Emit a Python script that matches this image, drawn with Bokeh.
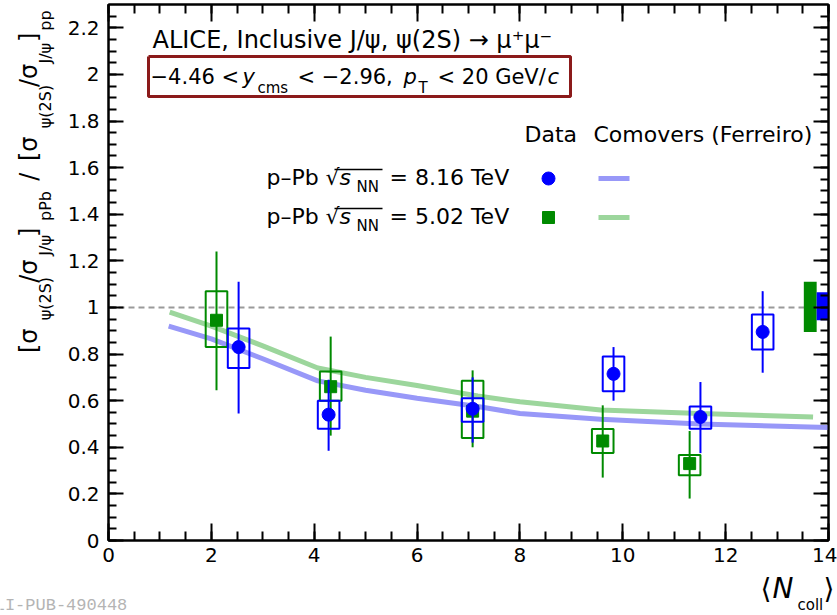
import numpy as np
from bokeh.plotting import figure
from bokeh.layouts import row, column
from bokeh.models import Range1d, LinearAxis, Label, FixedTicker, PrintfTickFormatter
from bokeh.embed import file_html
from bokeh.resources import INLINE

# ---------------- data ----------------
ncoll_816 = [2.53, 4.28, 7.08, 9.82, 11.51, 12.72]
ratio_816 = [0.83, 0.54, 0.565, 0.715, 0.53, 0.895]
stat_lo_816 = [0.545, 0.385, 0.42, 0.60, 0.375, 0.72]
stat_hi_816 = [1.11, 0.69, 0.70, 0.83, 0.68, 1.07]
syst_lo_816 = [0.74, 0.48, 0.51, 0.64, 0.48, 0.82]
syst_hi_816 = [0.91, 0.60, 0.61, 0.79, 0.575, 0.97]

ncoll_502 = [2.10, 4.32, 7.08, 9.61, 11.30]
ratio_502 = [0.945, 0.66, 0.555, 0.427, 0.33]
stat_lo_502 = [0.645, 0.45, 0.40, 0.27, 0.18]
stat_hi_502 = [1.24, 0.875, 0.73, 0.58, 0.47]
syst_lo_502 = [0.83, 0.60, 0.44, 0.375, 0.28]
syst_hi_502 = [1.07, 0.725, 0.685, 0.478, 0.367]

comov_x_816 = [1.17, 2.0, 3.0, 4.07, 5.0, 6.0, 7.18, 8.0, 9.57, 11.5, 14.0]
comov_y_816 = [0.92, 0.865, 0.78, 0.685, 0.645, 0.61, 0.575, 0.545, 0.52, 0.50, 0.485]
comov_x_502 = [1.19, 2.0, 3.0, 4.07, 5.0, 6.0, 7.18, 8.0, 9.57, 11.5, 13.7]
comov_y_502 = [0.98, 0.92, 0.835, 0.74, 0.70, 0.665, 0.62, 0.595, 0.56, 0.545, 0.53]

glob_lo_816, glob_hi_816 = 0.945, 1.065
glob_lo_502, glob_hi_502 = 0.895, 1.11

x_ticks = [0, 2, 4, 6, 8, 10, 12, 14]
y_ticks = [0, 0.2, 0.4, 0.6, 0.8, 1.0, 1.2, 1.4, 1.6, 1.8, 2.0, 2.2]

# ---------------- style / layout ----------------
W, H = 837, 615
LW = 60            # left strip (y-axis title)
MH = 572           # height of main figure
BH = H - MH        # bottom strip (x-axis title)
FL, FR, FT, FB = 108, 828, 4, 540          # frame edges in page pixels
XMAX, YMAX = 14.0, 2.3
FONT = "DejaVu Sans"
BLUE = "#0000ff"
GREEN = "#008a00"
BLUE_L = "#9898f8"
GREEN_L = "#9cd69c"
HALF_W = 0.21
SHIFT = 0.4        # baseline correction, fraction of font size

def X(px):
    return (px - FL) * XMAX / (FR - FL)

def Y(py):
    return (FB - py) * YMAX / (FB - FT)

p = figure(width=W - LW, height=MH, x_range=Range1d(0, XMAX), y_range=Range1d(0, YMAX),
           output_backend="svg", toolbar_location=None,
           min_border_left=FL - LW, min_border_right=W - FR, min_border_top=FT,
           min_border_bottom=MH - FB)
p.grid.visible = False
p.outline_line_color = "black"
p.outline_line_width = 2
p.background_fill_color = "white"
p.border_fill_color = "white"

x_minor = list(np.arange(0, XMAX + 0.01, 0.5))
y_minor = list(np.arange(0, YMAX + 0.001, 0.05))

def style_axis(ax, ticks, minor, major_len, minor_len, labels=True):
    ax.ticker = FixedTicker(ticks=ticks, minor_ticks=minor)
    ax.formatter = PrintfTickFormatter(format="%g")
    ax.axis_line_width = 2
    ax.major_tick_in = major_len
    ax.major_tick_out = 0
    ax.minor_tick_in = minor_len
    ax.minor_tick_out = 0
    ax.major_tick_line_width = 2
    ax.minor_tick_line_width = 2
    if labels:
        ax.major_label_text_font = FONT
        ax.major_label_text_font_size = "20px"
        ax.major_label_text_color = "black"
    else:
        ax.major_label_text_font_size = "0px"
        ax.major_label_text_color = None
        ax.major_label_standoff = 0

style_axis(p.xaxis[0], x_ticks, x_minor, 17, 9)
p.xaxis[0].major_label_standoff = 7
style_axis(p.yaxis[0], y_ticks, y_minor, 15, 8)
p.yaxis[0].major_label_standoff = 9

top_ax = LinearAxis()
style_axis(top_ax, x_ticks, x_minor, 17, 9, labels=False)
p.add_layout(top_ax, "above")
right_ax = LinearAxis()
style_axis(right_ax, y_ticks, y_minor, 15, 8, labels=False)
p.add_layout(right_ax, "right")

# unity line
p.line([0, XMAX], [1, 1], line_color="#9a9a9a", line_width=2, line_dash="6 4")

# comover curves
p.line(comov_x_502, comov_y_502, line_color=GREEN_L, line_width=5)
p.line(comov_x_816, comov_y_816, line_color=BLUE_L, line_width=5)

# 5.02 TeV data
n5 = np.array(ncoll_502)
p.segment(x0=ncoll_502, y0=stat_lo_502, x1=ncoll_502, y1=stat_hi_502, line_color=GREEN, line_width=2)
p.quad(left=n5 - HALF_W, right=n5 + HALF_W, bottom=syst_lo_502, top=syst_hi_502,
       fill_color=None, line_color=GREEN, line_width=2)
p.scatter(ncoll_502, ratio_502, marker="square", size=12, fill_color=GREEN, line_color=GREEN)

# 8.16 TeV data
n8 = np.array(ncoll_816)
p.segment(x0=ncoll_816, y0=stat_lo_816, x1=ncoll_816, y1=stat_hi_816, line_color=BLUE, line_width=2)
p.quad(left=n8 - HALF_W, right=n8 + HALF_W, bottom=syst_lo_816, top=syst_hi_816,
       fill_color=None, line_color=BLUE, line_width=2)
p.scatter(ncoll_816, ratio_816, marker="circle", size=13, fill_color=BLUE, line_color=BLUE)

# global uncertainty boxes at unity
p.quad(left=[13.52], right=[13.77], bottom=[glob_lo_502], top=[glob_hi_502],
       fill_color=GREEN, line_color=None)
p.quad(left=[13.77], right=[14.0], bottom=[glob_lo_816], top=[glob_hi_816],
       fill_color=BLUE, line_color=None)

# ---------------- texts ----------------
def add_text(fig, tx, ty, text, px, py, size, italic=False, rotated=False,
             color="black", font=FONT):
    if rotated:
        px = px - SHIFT * size
        angle = np.pi / 2
    else:
        py = py - SHIFT * size
        angle = 0.0
    fig.add_layout(Label(x=tx(px), y=ty(py), text=text, text_font=font,
                         text_font_size=f"{size}px",
                         text_font_style="italic" if italic else "normal",
                         text_color=color, angle=angle,
                         text_align="left", text_baseline="alphabetic"))

def lab(text, px, py, size, italic=False, color="black", font=FONT):
    add_text(p, X, Y, text, px, py, size, italic=italic, color=color, font=font)

# header, line 1
lab("ALICE, Inclusive J/\u03c8, \u03c8(2S) \u2192 \u03bc\u207a\u03bc\u207b", 152, 49, 24)
# header, line 2
lab("\u22124.46 <", 150, 85, 21)
lab("y", 242, 85, 21, italic=True)
lab("cms", 257, 93, 15)
lab("< \u22122.96,", 297, 85, 21)
lab("p", 403, 85, 21, italic=True)
lab("T", 418, 93, 15)
lab("< 20 GeV/", 437, 85, 21)
lab("c", 547, 85, 21, italic=True)
# red box around kinematic range
p.line([X(148), X(570), X(570), X(148), X(148)], [Y(56), Y(56), Y(96), Y(96), Y(56)],
       line_color="#8b1a1a", line_width=3)

# legend
lab("Data", 524, 143, 22)
lab("Comovers (Ferreiro)", 593, 143, 22)
for energy, yb in [("8.16", 186), ("5.02", 225)]:
    lab("p\u2013Pb", 266, yb, 22)
    lab("\u221a", 325, yb, 22)
    lab("s", 339, yb, 22, italic=True)
    lab("NN", 356, yb + 6, 15)
    lab(f"= {energy} TeV", 389, yb, 22)
    p.segment(x0=[X(334)], y0=[Y(yb - 17)], x1=[X(382)], y1=[Y(yb - 17)],
              line_color="black", line_width=1.5)
p.scatter([X(548)], [Y(178)], marker="circle", size=13, fill_color=BLUE, line_color=BLUE)
p.scatter([X(548)], [Y(217)], marker="square", size=12, fill_color=GREEN, line_color=GREEN)
p.line([X(598), X(629)], [Y(178), Y(178)], line_color=BLUE_L, line_width=5)
p.line([X(598), X(629)], [Y(217), Y(217)], line_color=GREEN_L, line_width=5)

# ---------------- left strip: y axis title ----------------
def strip(width, height):
    f = figure(width=width, height=height, x_range=Range1d(0, width),
               y_range=Range1d(height, 0), x_axis_type=None, y_axis_type=None,
               output_backend="svg", toolbar_location=None, min_border=0)
    f.grid.visible = False
    f.outline_line_color = None
    f.background_fill_color = "white"
    f.border_fill_color = "white"
    return f

left = strip(LW, MH)
ident = lambda v: v
MB, SB = 38, 51
ytitle = [("[\u03c3", MB, 372, 24), ("\u03c8(2S)", SB, 337, 16), ("/\u03c3", MB, 297, 24),
          ("J/\u03c8", SB, 268, 16), ("]", MB, 248, 24), ("pPb", SB, 231, 16),
          ("/", MB, 188, 24), ("[\u03c3", MB, 167, 24), ("\u03c8(2S)", SB, 132, 16),
          ("/\u03c3", MB, 88, 24), ("J/\u03c8", SB, 63, 16), ("]", MB, 40, 24),
          ("pp", SB, 28, 16)]
for t, bx, by, s in ytitle:
    add_text(left, ident, ident, t, bx, by, s, rotated=True)

# ---------------- bottom strip: x axis title + watermark ----------------
bottom = strip(W, BH)
by0 = lambda v: v - MH
add_text(bottom, ident, by0, "\u27e8", 760, 599, 28)
add_text(bottom, ident, by0, "N", 772, 599, 28, italic=True)
add_text(bottom, ident, by0, "coll", 797, 610, 15)
add_text(bottom, ident, by0, "\u27e9", 823, 599, 28)
add_text(bottom, ident, by0, "ALI-PUB-490448", -16, 612, 17, color="#b4b4b4",
         font="Liberation Mono")

root = column(row(left, p), bottom)
open("out.html", "w").write(file_html(root, INLINE))
